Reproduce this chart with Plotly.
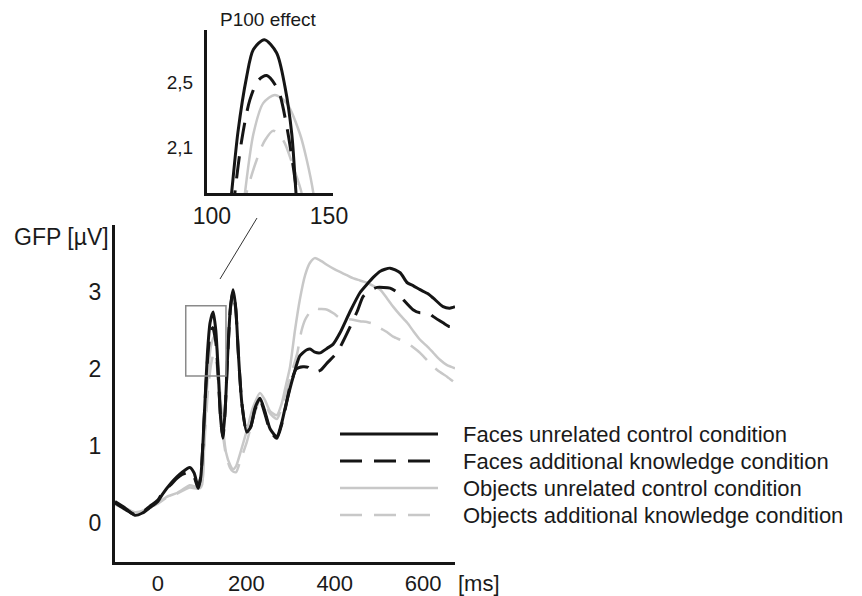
import plotly.graph_objects as go

# ---------------- data ----------------
# main panel: time [ms] and GFP [µV]
t_faces_unrel = [-97, -75, -52, -35, -18, 0, 11, 30, 43, 55, 72, 82, 91, 97, 105, 112, 118, 125, 131, 137,
                 142, 147, 152, 158, 164, 170, 176, 182, 190, 201, 210, 220, 231, 242, 254, 269, 280, 288,
                 306, 321, 337, 344, 355, 367, 383, 396, 412, 435, 457, 473, 487, 503, 525, 548, 564, 578,
                 593, 610, 623, 645, 660, 672]
v_faces_unrel = [0.28, 0.20, 0.10, 0.13, 0.20, 0.28, 0.38, 0.52, 0.60, 0.66, 0.72, 0.65, 0.47, 0.60, 1.40,
                 2.20, 2.60, 2.74, 2.50, 1.90, 1.35, 1.12, 1.45, 2.20, 2.80, 3.03, 2.80, 2.20, 1.55, 1.18,
                 1.25, 1.50, 1.62, 1.45, 1.22, 1.12, 1.30, 1.50, 1.90, 2.17, 2.25, 2.26, 2.22, 2.21, 2.27,
                 2.32, 2.47, 2.75, 2.99, 3.10, 3.19, 3.27, 3.31, 3.25, 3.12, 3.08, 3.03, 2.98, 2.92, 2.81,
                 2.79, 2.81]

t_faces_add = [-97, -75, -52, -35, -18, 0, 11, 30, 43, 55, 72, 82, 91, 97, 105, 112, 118, 124, 131, 137,
               142, 147, 152, 158, 164, 170, 176, 182, 190, 201, 210, 220, 231, 242, 254, 269, 280, 288,
               300, 313, 328, 340, 351, 367, 383, 405, 419, 435, 451, 464, 480, 496, 525, 540, 555, 577,
               593, 610, 623, 645, 660, 672]
v_faces_add = [0.26, 0.18, 0.11, 0.14, 0.22, 0.30, 0.40, 0.50, 0.58, 0.63, 0.66, 0.60, 0.45, 0.60, 1.40,
               2.10, 2.45, 2.54, 2.35, 1.85, 1.35, 1.10, 1.45, 2.20, 2.78, 3.00, 2.78, 2.20, 1.55, 1.18,
               1.25, 1.48, 1.60, 1.42, 1.20, 1.10, 1.28, 1.48, 1.80, 2.00, 2.03, 2.02, 1.96, 1.98, 2.08,
               2.21, 2.36, 2.55, 2.75, 2.94, 3.02, 3.06, 3.05, 3.00, 2.90, 2.77, 2.73, 2.74, 2.68, 2.60,
               2.55, 2.56]

t_obj_unrel = [-97, -75, -52, -30, -18, 0, 20, 43, 60, 72, 85, 95, 100, 106, 113, 120, 127, 134, 140, 147,
               154, 163, 170, 177, 186, 201, 215, 231, 242, 254, 269, 280, 290, 299, 310, 321, 333, 344,
               355, 370, 383, 398, 412, 427, 441, 457, 473, 490, 503, 518, 532, 548, 564, 578, 593, 608,
               623, 638, 654, 672]
v_obj_unrel = [0.26, 0.20, 0.14, 0.17, 0.21, 0.26, 0.34, 0.39, 0.45, 0.49, 0.47, 0.45, 0.50, 1.20, 1.90,
               2.30, 2.42, 2.25, 1.75, 1.25, 0.92, 0.76, 0.70, 0.74, 0.90, 1.20, 1.50, 1.69, 1.60, 1.45,
               1.40, 1.55, 1.80, 2.03, 2.50, 2.90, 3.22, 3.38, 3.44, 3.40, 3.35, 3.30, 3.26, 3.22, 3.18,
               3.15, 3.12, 3.07, 3.03, 2.92, 2.81, 2.70, 2.60, 2.49, 2.38, 2.30, 2.21, 2.12, 2.05, 2.01]

t_obj_add = [-97, -75, -52, -30, -18, 0, 20, 43, 60, 72, 85, 95, 100, 106, 113, 120, 126, 133, 140, 147,
             154, 163, 170, 177, 186, 201, 215, 231, 242, 254, 269, 280, 290, 305, 315, 325, 333, 344,
             355, 365, 383, 398, 412, 427, 441, 457, 473, 490, 503, 518, 532, 548, 564, 578, 593, 608,
             623, 638, 654, 672]
v_obj_add = [0.24, 0.19, 0.13, 0.17, 0.20, 0.25, 0.33, 0.38, 0.43, 0.46, 0.45, 0.44, 0.50, 1.10, 1.70,
             2.05, 2.20, 2.05, 1.60, 1.15, 0.88, 0.72, 0.67, 0.66, 0.80, 1.05, 1.35, 1.60, 1.55, 1.42,
             1.35, 1.50, 1.70, 2.00, 2.20, 2.50, 2.64, 2.74, 2.79, 2.78, 2.77, 2.72, 2.66, 2.65, 2.64,
             2.62, 2.61, 2.58, 2.53, 2.48, 2.42, 2.38, 2.34, 2.28, 2.21, 2.12, 2.03, 1.96, 1.90, 1.82]

# inset "P100 effect": time [ms] and GFP [µV]
ti_faces_unrel = [107.5, 108.4, 111.1, 114.8, 117.7, 122.4, 127.6, 131.2, 134.1, 135.9, 136.6]
vi_faces_unrel = [1.70, 1.817, 2.19, 2.53, 2.70, 2.76, 2.68, 2.47, 2.18, 1.817, 1.70]
ti_faces_add = [109.0, 109.8, 112.7, 116.2, 119.8, 123.4, 128.3, 131.9, 134.7, 136.2, 136.8]
vi_faces_add = [1.70, 1.817, 2.14, 2.39, 2.51, 2.54, 2.45, 2.23, 1.98, 1.817, 1.70]
ti_obj_unrel = [113.2, 114.1, 117.7, 121.9, 126.9, 131.9, 137.6, 140.5, 143.3, 144.2]
vi_obj_unrel = [1.70, 1.817, 2.18, 2.37, 2.42, 2.37, 2.18, 2.02, 1.817, 1.70]
ti_obj_add = [113.8, 114.8, 119.1, 122.6, 126.2, 130.5, 134.7, 138.3, 139.3]
vi_obj_add = [1.70, 1.817, 2.02, 2.14, 2.20, 2.14, 1.98, 1.817, 1.70]

series_names = ["Faces unrelated control condition",
                "Faces additional knowledge condition",
                "Objects unrelated control condition",
                "Objects additional knowledge condition"]

main_xticks = [0, 200, 400, 600]
main_yticks = [0, 1, 2, 3]
inset_xticks = [100, 150]
inset_yticks = [2.1, 2.5]
inset_yticktext = ["2,1", "2,5"]

# ---------------- styles ----------------
BLACK = "#151515"
GRAY = "#c8c8c8"
TEXT = "#1a1a1a"
DASH = "22px,12px"
FONT = "Liberation Sans, Arial, sans-serif"
styles = [dict(color=BLACK, width=3, dash="solid"),
          dict(color=BLACK, width=3, dash=DASH),
          dict(color=GRAY, width=2.5, dash="solid"),
          dict(color=GRAY, width=2.5, dash=DASH)]

fig = go.Figure()

main_data = [(t_faces_unrel, v_faces_unrel), (t_faces_add, v_faces_add),
             (t_obj_unrel, v_obj_unrel), (t_obj_add, v_obj_add)]
inset_data = [(ti_faces_unrel, vi_faces_unrel), (ti_faces_add, vi_faces_add),
              (ti_obj_unrel, vi_obj_unrel), (ti_obj_add, vi_obj_add)]

# draw gray first so black sits on top
order = [3, 2, 1, 0]
for i in order:
    t, v = main_data[i]
    fig.add_trace(go.Scatter(x=t, y=v, mode="lines", name=series_names[i],
                             line=dict(shape="spline", smoothing=0.6, **styles[i]),
                             showlegend=False, hoverinfo="skip", xaxis="x", yaxis="y"))
for i in order:
    t, v = inset_data[i]
    fig.add_trace(go.Scatter(x=t, y=v, mode="lines", name=series_names[i],
                             line=dict(shape="spline", smoothing=0.8, **styles[i]),
                             showlegend=False, hoverinfo="skip", xaxis="x2", yaxis="y2"))

W, H = 862, 596
def px(x):
    return x / W
def py(y):
    return (H - y) / H

axis_common = dict(showgrid=False, zeroline=False, showline=True, linecolor=BLACK, linewidth=3,
                   ticks="outside", tickcolor="rgba(0,0,0,0)", fixedrange=True, automargin=False)

fig.update_layout(
    width=W, height=H,
    margin=dict(l=0, r=0, t=0, b=0),
    paper_bgcolor="white", plot_bgcolor="rgba(0,0,0,0)",
    font=dict(family=FONT, color=TEXT, size=22),
    xaxis=dict(domain=[px(115), px(455)], range=[-97, 672], tickvals=main_xticks,
               ticklen=0, tickfont=dict(size=22), anchor="y", **axis_common),
    yaxis=dict(domain=[py(562), py(225)], range=[-0.506, 3.87], tickvals=main_yticks,
               ticklen=6, tickfont=dict(size=23), anchor="x", **axis_common),
    xaxis2=dict(domain=[px(207), px(333)], range=[97.9, 151.7], tickvals=inset_xticks,
                ticklen=0, tickfont=dict(size=23), anchor="y2", **axis_common),
    yaxis2=dict(domain=[py(193), py(30)], range=[1.817, 2.82], tickvals=inset_yticks,
                ticktext=inset_yticktext, ticklen=7, tickfont=dict(size=19), anchor="x2",
                **axis_common),
)

shapes = []
# zoom box marking the P100 region in the main panel
shapes.append(dict(type="rect", xref="x", yref="y", x0=63, x1=154, y0=1.91, y1=2.82,
                   line=dict(color="#8a8a8a", width=1.5)))
# connector line to inset
shapes.append(dict(type="line", xref="paper", yref="paper", x0=px(220), y0=py(279),
                   x1=px(257), y1=py(218), line=dict(color="#333333", width=1)))

# manual legend
legend_rows = [434, 461, 488, 515]
annotations = []
for i, yrow in enumerate(legend_rows):
    st = styles[i]
    x1 = 438 if st["dash"] == "solid" else 430
    shapes.append(dict(type="line", xref="paper", yref="paper", x0=px(340), x1=px(x1),
                       y0=py(yrow), y1=py(yrow),
                       line=dict(color=st["color"], width=st["width"], dash=st["dash"])))
    annotations.append(dict(text=series_names[i], xref="paper", yref="paper", x=px(461), y=py(yrow),
                            xanchor="left", yanchor="middle", showarrow=False,
                            font=dict(size=22, family=FONT, color=TEXT)))

annotations.append(dict(text="GFP [µV]", xref="paper", yref="paper", x=px(111), y=py(237),
                        xanchor="right", yanchor="middle", showarrow=False,
                        font=dict(size=23, family=FONT, color=TEXT)))
annotations.append(dict(text="[ms]", xref="paper", yref="paper", x=px(456), y=py(583),
                        xanchor="left", yanchor="middle", showarrow=False,
                        font=dict(size=22, family=FONT, color=TEXT)))
annotations.append(dict(text="P100 effect", xref="paper", yref="paper", x=px(268), y=py(19),
                        xanchor="center", yanchor="middle", showarrow=False,
                        font=dict(size=19, family=FONT, color=TEXT)))

fig.update_layout(shapes=shapes, annotations=annotations)

fig.write_html("out.html", config={"displayModeBar": False, "staticPlot": True},
               post_script="document.body.style.margin='0px';")
